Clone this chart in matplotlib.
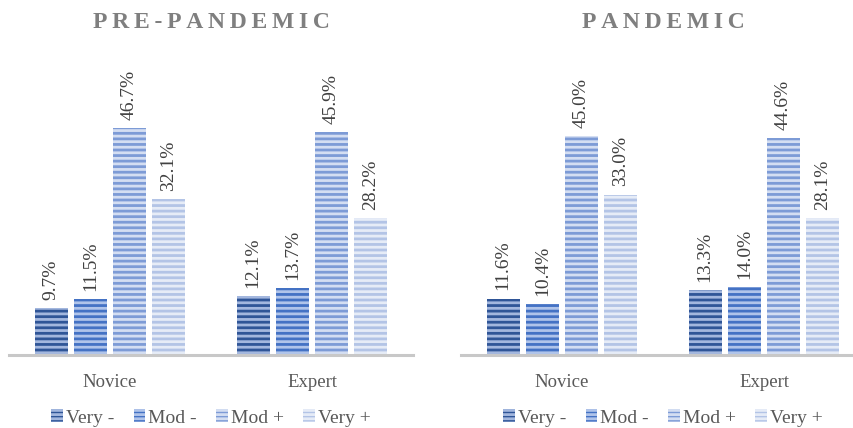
import matplotlib
matplotlib.use("Agg")
import matplotlib.pyplot as plt
import numpy as np
from matplotlib.patches import Patch

plt.rcParams['font.family'] = ['Liberation Serif', 'DejaVu Serif']
plt.rcParams['hatch.linewidth'] = 2.0

groups = ["Novice", "Expert"]
levels = ["Very -", "Mod -", "Mod +", "Very +"]

pre_pandemic = {
    "Very -": [9.7, 12.1],
    "Mod -": [11.5, 13.7],
    "Mod +": [46.7, 45.9],
    "Very +": [32.1, 28.2],
}
pandemic = {
    "Very -": [11.6, 13.3],
    "Mod -": [10.4, 14.0],
    "Mod +": [45.0, 44.6],
    "Very +": [33.0, 28.1],
}

# (face, stripe) pairs for each level
fills = {
    "Very -": ("#2f5597", "#a3b7de"),
    "Mod -": ("#4472c4", "#b0c4ea"),
    "Mod +": ("#7d9bd6", "#d4def2"),
    "Very +": ("#b3c4e6", "#e6ecf7"),
}

fig = plt.figure(figsize=(8.54, 4.28), dpi=100)
ax1 = fig.add_axes([9 / 854, 73 / 428, 404 / 854, 243 / 428])
ax2 = fig.add_axes([461 / 854, 73 / 428, 404 / 854, 243 / 428])

x = np.arange(len(groups))
width = 0.163
step = 0.194


def spaced(s):
    return "\u2009".join(s)


def draw(ax, data, title):
    for i, lvl in enumerate(levels):
        face, stripe = fills[lvl]
        pos = x + (i - 1.5) * step
        bars = ax.bar(pos, data[lvl], width, color=face, edgecolor=stripe,
                      hatch="---", linewidth=0)
        for b, v in zip(bars, data[lvl]):
            ax.annotate(f"{v:.1f}%", (b.get_x() + b.get_width() / 2, v),
                        xytext=(0, 6), textcoords="offset points",
                        rotation=90, ha="center", va="bottom",
                        fontsize=14, color="#404040", annotation_clip=False)
    ax.set_xlim(-0.5, 1.5)
    ax.set_ylim(0, 50)
    ax.set_xticks(x)
    ax.set_xticklabels(groups, fontsize=13.5, color="#595959")
    ax.tick_params(axis="x", length=0, pad=14)
    ax.set_yticks([])
    for side in ["top", "right", "left"]:
        ax.spines[side].set_visible(False)
    ax.spines["bottom"].set_color("#c8c8c8")
    ax.spines["bottom"].set_linewidth(2.2)
    ax.set_title(spaced(title), fontsize=17, fontweight="bold",
                 color="#7f7f7f", y=1.0, pad=0)
    ax.title.set_position((0.5, 1 + (112 - 23) / 243))
    ax.title.set_va("center")

    handles = [Patch(facecolor=fills[l][0], edgecolor=fills[l][1],
                     hatch="----", linewidth=0) for l in levels]
    ax.legend(handles, levels, loc="center", bbox_to_anchor=(0.5, -(418 - 355) / 243),
              ncol=4, frameon=False, fontsize=14, labelcolor="#595959",
              handlelength=0.6, handleheight=0.6, handletextpad=0.15,
              columnspacing=1.0)


draw(ax1, pre_pandemic, "PRE-PANDEMIC")
draw(ax2, pandemic, "PANDEMIC")

fig.savefig("out.png", dpi=100)
